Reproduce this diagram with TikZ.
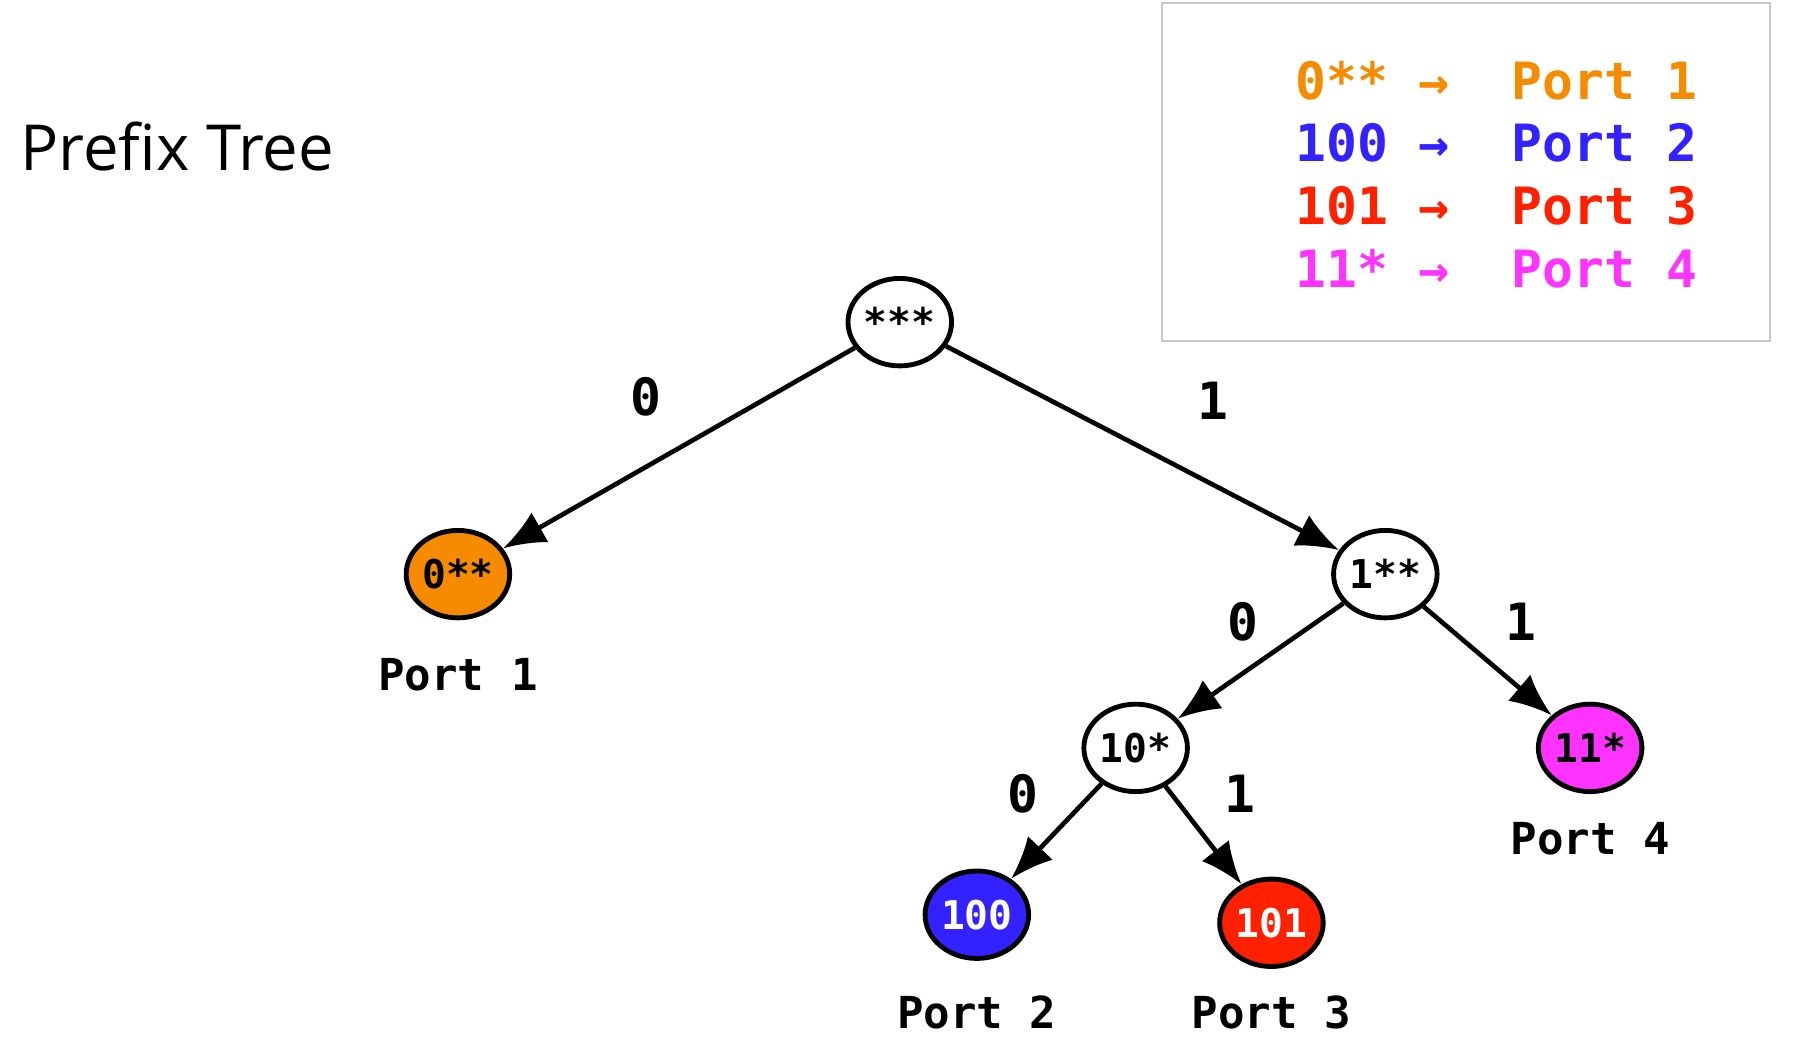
\documentclass[tikz,border=0pt]{standalone}
\usepackage{fontspec}
\usepackage{xcolor}
\usetikzlibrary{shapes.geometric,arrows.meta}
\newfontfamily\titlefont{Open Sans}
\newfontfamily\codefont{DejaVu Sans Mono}
\definecolor{portorange}{HTML}{F68B00}
\definecolor{portblue}{HTML}{3322FF}
\definecolor{portred}{HTML}{FF2000}
\definecolor{portpink}{HTML}{FF33FF}
\definecolor{keygray}{HTML}{C8C8C8}
\tikzstyle{trienode} = [ellipse, draw=black, line width=1.2pt, minimum width=0.9cm, minimum height=0.76cm,
inner sep=0pt, fill=white, font=\codefont\bfseries\fontsize{9.8}{10}\selectfont]
\tikzstyle{branch} = [-{Latex[length=10.5pt,width=8.5pt]}, line width=1.15pt]
\tikzstyle{bitlabel} = [font=\codefont\bfseries\fontsize{12.7}{14}\selectfont]
\tikzstyle{portlabel} = [font=\codefont\bfseries\fontsize{10.9}{12}\selectfont]
\tikzstyle{keyrow} = [anchor=west, inner sep=0pt, font=\codefont\bfseries\fontsize{12.7}{14}\selectfont]

\begin{document}
\begin{tikzpicture}
        \useasboundingbox (0,0) rectangle (15.67,-9.13);

        \node[anchor=base west, inner sep=0pt, font=\titlefont\fontsize{15.7}{18}\selectfont] at (0.17,-1.48) (title) {Prefix Tree};

        % Draw Key
        \node[draw=keygray, line width=0.5pt, minimum width=5.28cm, minimum height=2.93cm] at (12.74,-1.495) (keybox) {};
        \node[keyrow, text=portorange] at (11.25,-0.70) (key1) {0**~→~~Port~1};
        \node[keyrow, text=portblue] at (11.25,-1.24) (key2) {100~→~~Port~2};
        \node[keyrow, text=portred] at (11.25,-1.79) (key3) {101~→~~Port~3};
        \node[keyrow, text=portpink] at (11.25,-2.34) (key4) {11*~→~~Port~4};

        % Nodes of the tree
        \node[trienode] at (7.82,-2.80) (root) {***};
        \node[trienode, fill=portorange] at (3.98,-4.99) (n0) {0**};
        \node[trienode] at (12.04,-4.99) (n1) {1**};
        \node[trienode] at (9.87,-6.50) (n10) {10*};
        \node[trienode, fill=portpink] at (13.82,-6.50) (n11) {11*};
        \node[trienode, fill=portblue, text=white] at (8.49,-7.95) (n100) {100};
        \node[trienode, fill=portred, text=white] at (11.05,-8.02) (n101) {101};

        % Ports under the leaves
        \node[portlabel] at (3.98,-5.86) (port1) {Port 1};
        \node[portlabel] at (8.49,-8.80) (port2) {Port 2};
        \node[portlabel] at (11.05,-8.80) (port3) {Port 3};
        \node[portlabel] at (13.82,-7.29) (port4) {Port 4};

        % Branches
        \draw[branch] (root) -- (n0);
        \draw[branch] (root) -- (n1);
        \draw[branch] (n1) -- (n10);
        \draw[branch] (n1) -- (n11);
        \draw[branch] (n10) -- (n100);
        \draw[branch] (n10) -- (n101);

        \node[bitlabel] at (5.61,-3.45) (bit0) {0};
        \node[bitlabel] at (10.54,-3.48) (bit1) {1};
        \node[bitlabel] at (10.80,-5.40) (bit10) {0};
        \node[bitlabel] at (13.22,-5.40) (bit11) {1};
        \node[bitlabel] at (8.89,-6.90) (bit100) {0};
        \node[bitlabel] at (10.78,-6.90) (bit101) {1};
\end{tikzpicture}
\end{document}
